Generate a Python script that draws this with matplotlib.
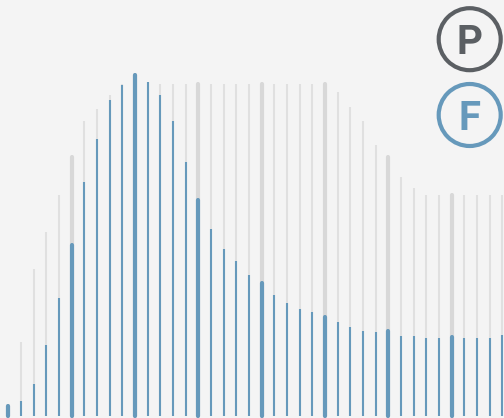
import numpy as np
import matplotlib.pyplot as plt
from matplotlib.patches import Circle

# values (arbitrary units, 0 = baseline)
periods = list(range(40))
p_values = [10, 74, 147, 184, 221, 259, 295, 307, 321, 332,
            341, 334, 332, 332, 332, 332, 332, 332, 332, 332,
            332, 332, 332, 332, 332, 332, 324, 309, 295, 271,
            259, 239, 228, 221, 221, 221, 221, 221, 221, 221]
f_values = [10, 15, 32, 71, 118, 171, 234, 277, 316, 331,
            341, 334, 321, 295, 254, 216, 187, 167, 155, 141,
            133, 121, 113, 107, 104, 99, 94, 89, 85, 84,
            85, 80, 80, 78, 78, 79, 78, 78, 78, 81]
badges = ['P', 'F']

bg = '#f4f4f4'
blue = '#6699bb'
grey_thin = '#e0e0e0'
grey_thick = '#d8d8d8'
dark = '#5b5f63'

fig = plt.figure(figsize=(5.04, 4.18), dpi=100)
fig.patch.set_facecolor(bg)
ax = fig.add_axes([0, 0, 1, 1])
ax.set_facecolor(bg)

x = np.array(periods)
p = np.array(p_values)
f = np.array(f_values)
major = x % 5 == 0

# P bars behind, F bars on top
ax.vlines(x[~major], 0, p[~major], color=grey_thin, linewidth=1.5)
ax.vlines(x[major], 0, p[major], color=grey_thick, linewidth=3, capstyle='round')
ax.vlines(x[~major], 0, f[~major], color=blue, linewidth=1.5)
ax.vlines(x[major], 0, f[major], color=blue, linewidth=3, capstyle='round')

ax.set_xlim(-0.655, 39.12)
ax.set_ylim(-2, 416)
ax.axis('off')

# legend badges (top right), positioned in inches
for cy, letter, col in zip([3.788, 3.03], badges, [dark, blue]):
    fig.patches.append(Circle((4.697, cy), 0.31, transform=fig.dpi_scale_trans,
                              facecolor='none', edgecolor=col, linewidth=3))
    fig.text(4.697 / 5.04, cy / 4.18, letter, color=col, fontsize=29,
             fontweight='bold', family=['Roboto', 'DejaVu Sans'],
             ha='center', va='center_baseline')

fig.savefig('out.png', dpi=100, facecolor=bg)
